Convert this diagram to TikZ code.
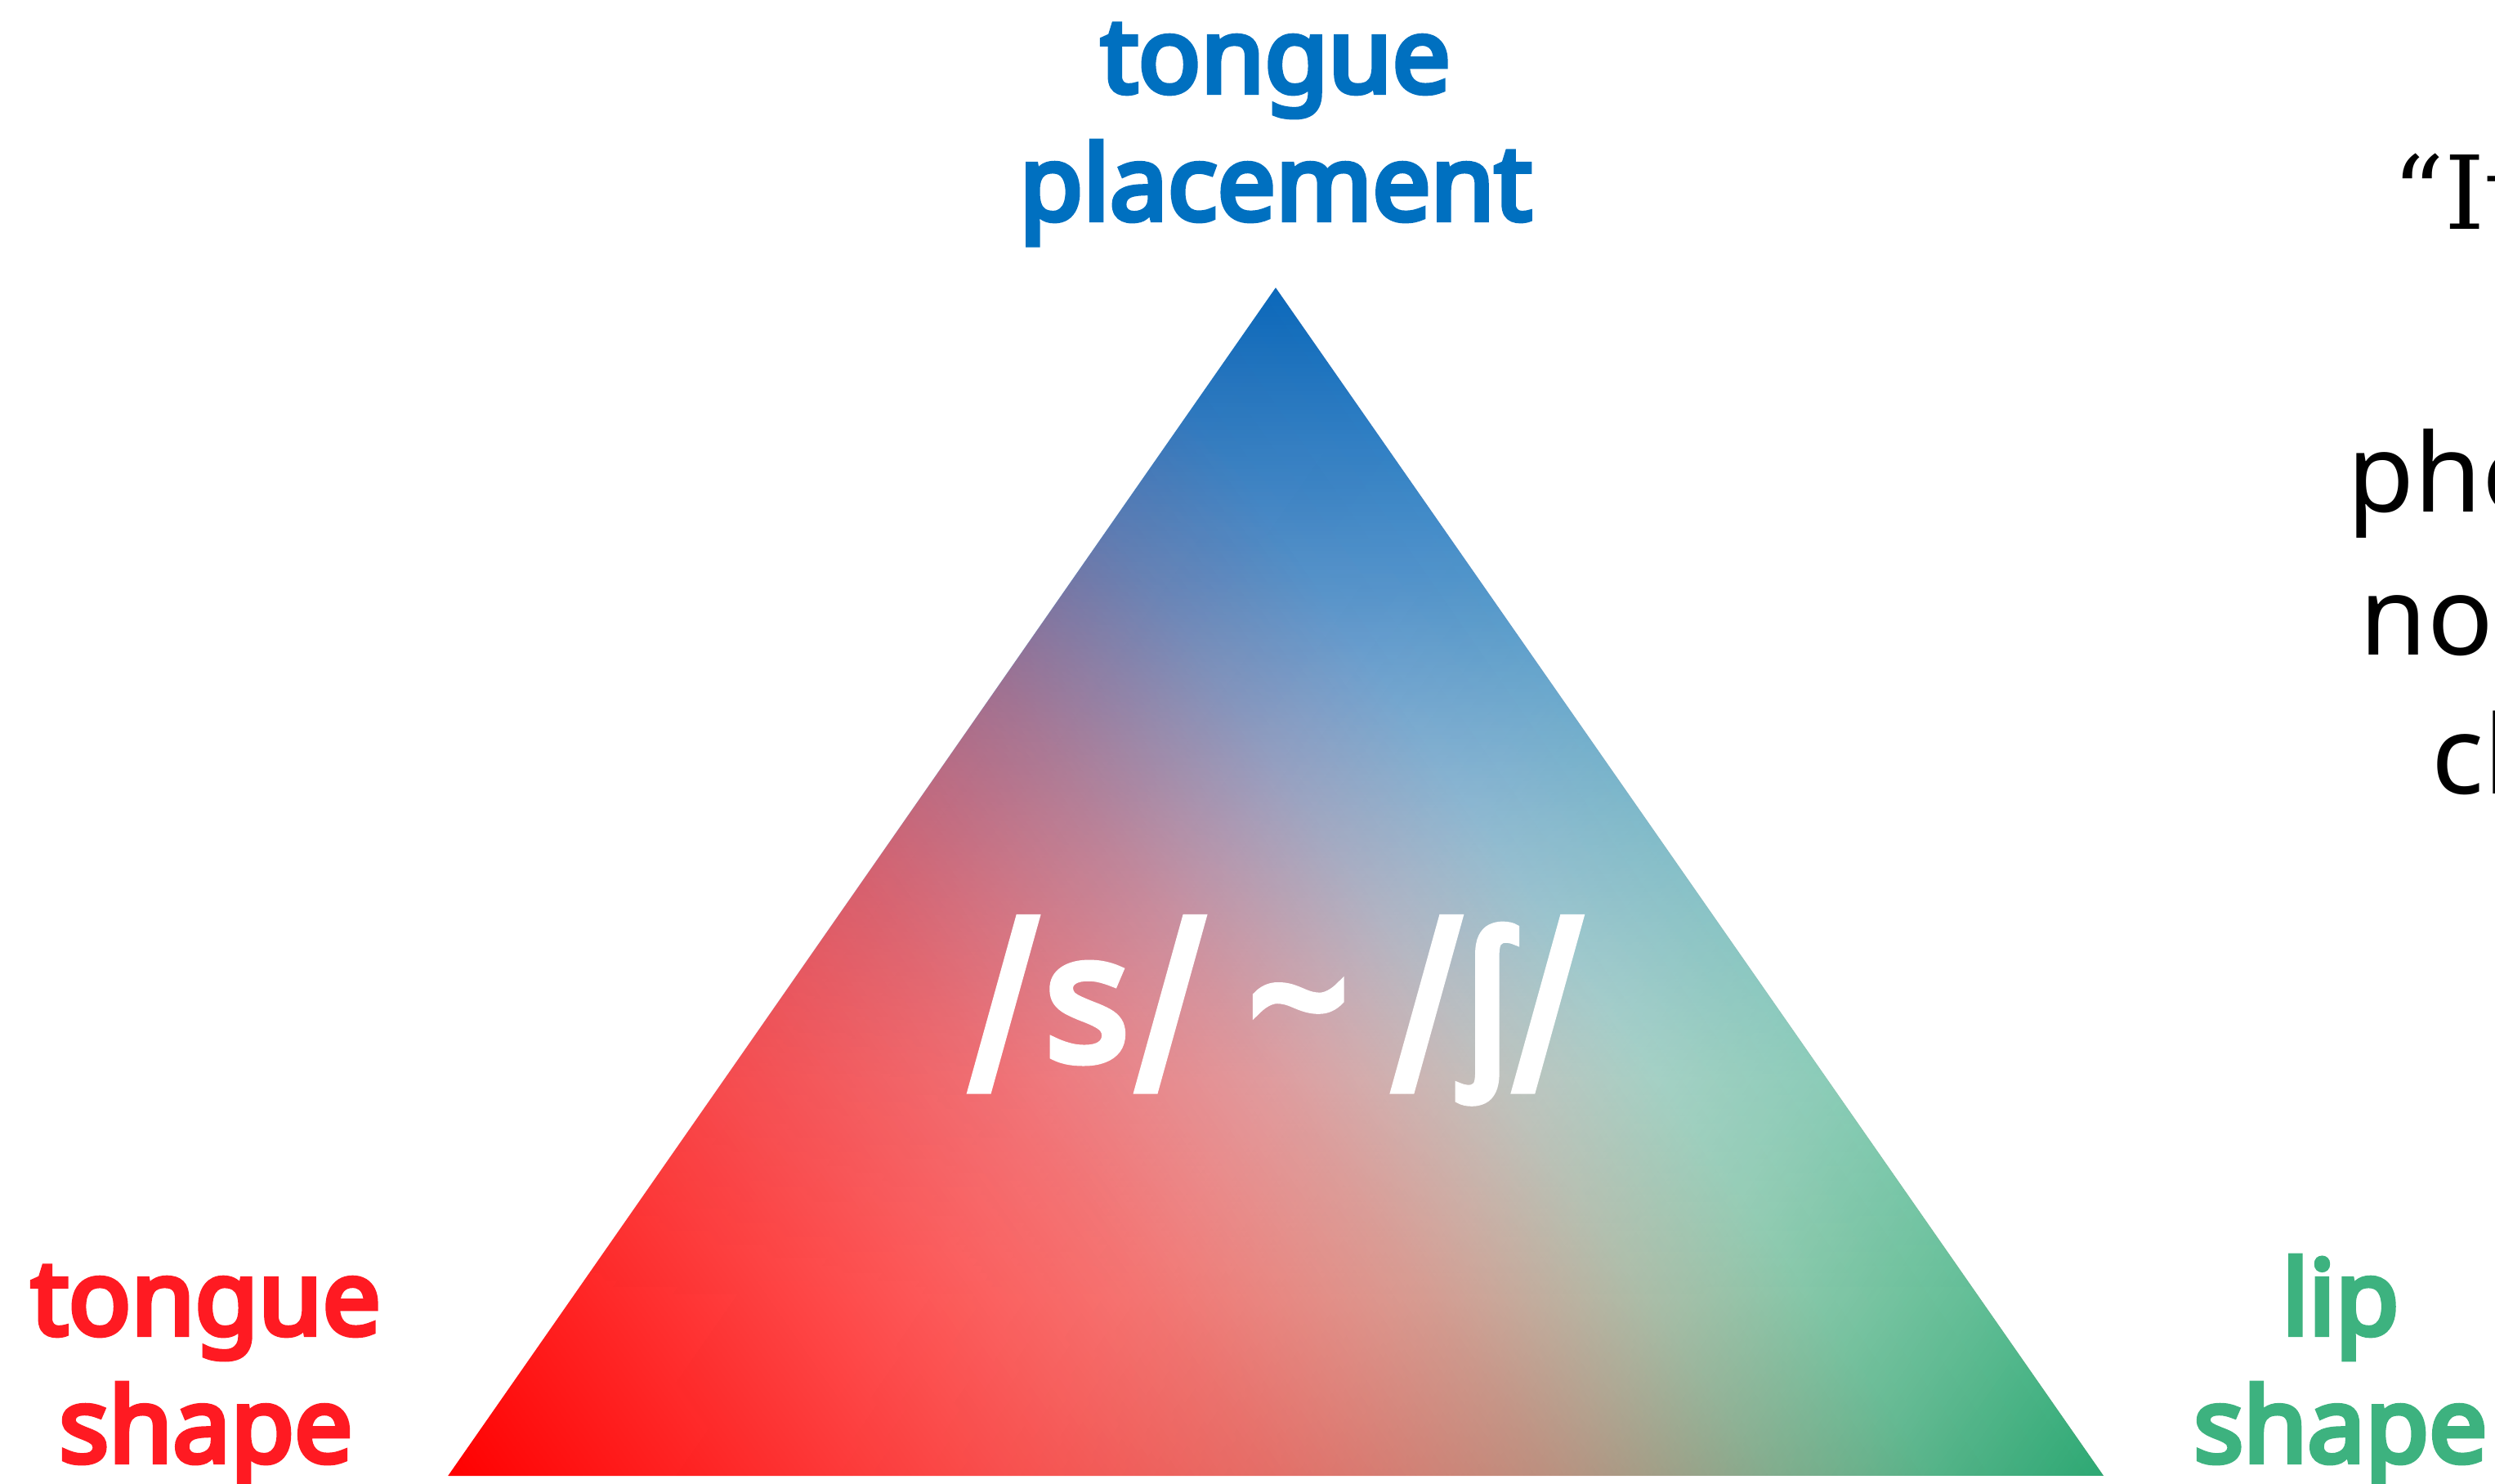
\documentclass[tikz,border=0pt]{standalone}
\usepackage{fontspec}
\usepackage{graphicx}
\newfontfamily\labelfont{Noto Sans}[FakeBold=5]
\newfontfamily\bodyfont{Noto Sans}
\newfontfamily\serifquote{DejaVu Serif}
\usetikzlibrary{fadings}
\definecolor{placeblue}{HTML}{0070C0}
\definecolor{shapered}{HTML}{FF1A22}
\definecolor{lipgreen}{HTML}{3DB27F}
\definecolor{cornerred}{HTML}{FF0000}
\definecolor{cornerblue}{HTML}{0B68BA}
\definecolor{cornergreen}{HTML}{2DA873}
% long slash, reaching below the baseline
\newcommand\ipaslash{\raisebox{-.16em}{\scalebox{1}[1.34]{/}}}

% Ramps run from the opposite edge (transparent) up to the corner (opaque).
\pgfdeclareverticalshading{redramp}{44cm}{color(0cm)=(black); color(1.66cm)=(white!2!black); color(3.32cm)=(white!12!black); color(5.54cm)=(white!32!black); color(8.31cm)=(white!52!black); color(11.09cm)=(white!68!black); color(14.13cm)=(white!86!black); color(16.62cm)=(white)}
\pgfdeclareverticalshading{greenramp}{44cm}{color(0cm)=(black); color(3.32cm)=(white!2!black); color(5.54cm)=(white!10!black); color(8.31cm)=(white!27!black); color(11.09cm)=(white!48!black); color(14.13cm)=(white!75!black); color(16.62cm)=(white)}
\pgfdeclareverticalshading{blueramp}{44cm}{color(0cm)=(black); color(2.18cm)=(black); color(4.85cm)=(white!12!black); color(7.27cm)=(white!35!black); color(10.9cm)=(white!70!black); color(14.54cm)=(white)}
\pgfdeclarefading{redfade}{\pgfuseshading{redramp}}
\pgfdeclarefading{greenfade}{\pgfuseshading{greenramp}}
\pgfdeclarefading{bluefade}{\pgfuseshading{blueramp}}

\begin{document}
\begin{tikzpicture}[x=1cm,y=1cm,
 corner/.style={align=center,anchor=base,inner sep=0pt,font=\labelfont\fontsize{36}{44.4}\selectfont},
 quote/.style={anchor=base west,inner sep=0pt,font=\bodyfont\fontsize{38}{48}\selectfont}]
\path[use as bounding box] (-15.61,-7.37) rectangle (14.92,10.79);
\clip (-15.61,-7.37) rectangle (14.92,10.79);
\coordinate (A) at (-10.13,-7.27);
\coordinate (B) at (0,7.27);
\coordinate (C) at (10.13,-7.27);
% Three faded fills layered over white, one per corner.
\foreach \col/\fad/\mx/\my/\rot in {cornerblue/bluefade/0/0/0,
 cornergreen/greenfade/3.3105/-2.5186/-124.87,cornerred/redfade/-3.3105/-2.5186/124.87}
 \fill[\col,path fading=\fad,fit fading=false,fading transform={shift={(\mx,\my)},rotate=\rot}] (A)--(B)--(C)--cycle;

\node[corner,text=placeblue] (placement) at (0,8.10) {tongue\\placement};
\node[corner,text=shapered] (tshape) at (-13.09,-7.10) {tongue\\shape};
\node[corner,text=lipgreen] (lshape) at (13.03,-7.10) {lip\\shape};
\node[anchor=base,inner sep=0pt,text=white,font=\labelfont\fontsize{61}{70}\selectfont] (pair) at (0,-2.18) {\ipaslash\kern.05em s\kern.05em\ipaslash{} \textasciitilde{} \ipaslash\kern.03em ʃ\kern.03em\ipaslash};

% Right-hand text, cut off by the page edge.
\node[quote,font=\serifquote\fontsize{35.5}{46}\selectfont] (q1) at (13.66,7.98) {“It};
\node[quote] (q2) at (13.11,4.52) {pho};
\node[quote] (q3) at (13.26,2.77) {not};
\node[quote] (q4) at (14.14,1.07) {cl};
\end{tikzpicture}
\end{document}
